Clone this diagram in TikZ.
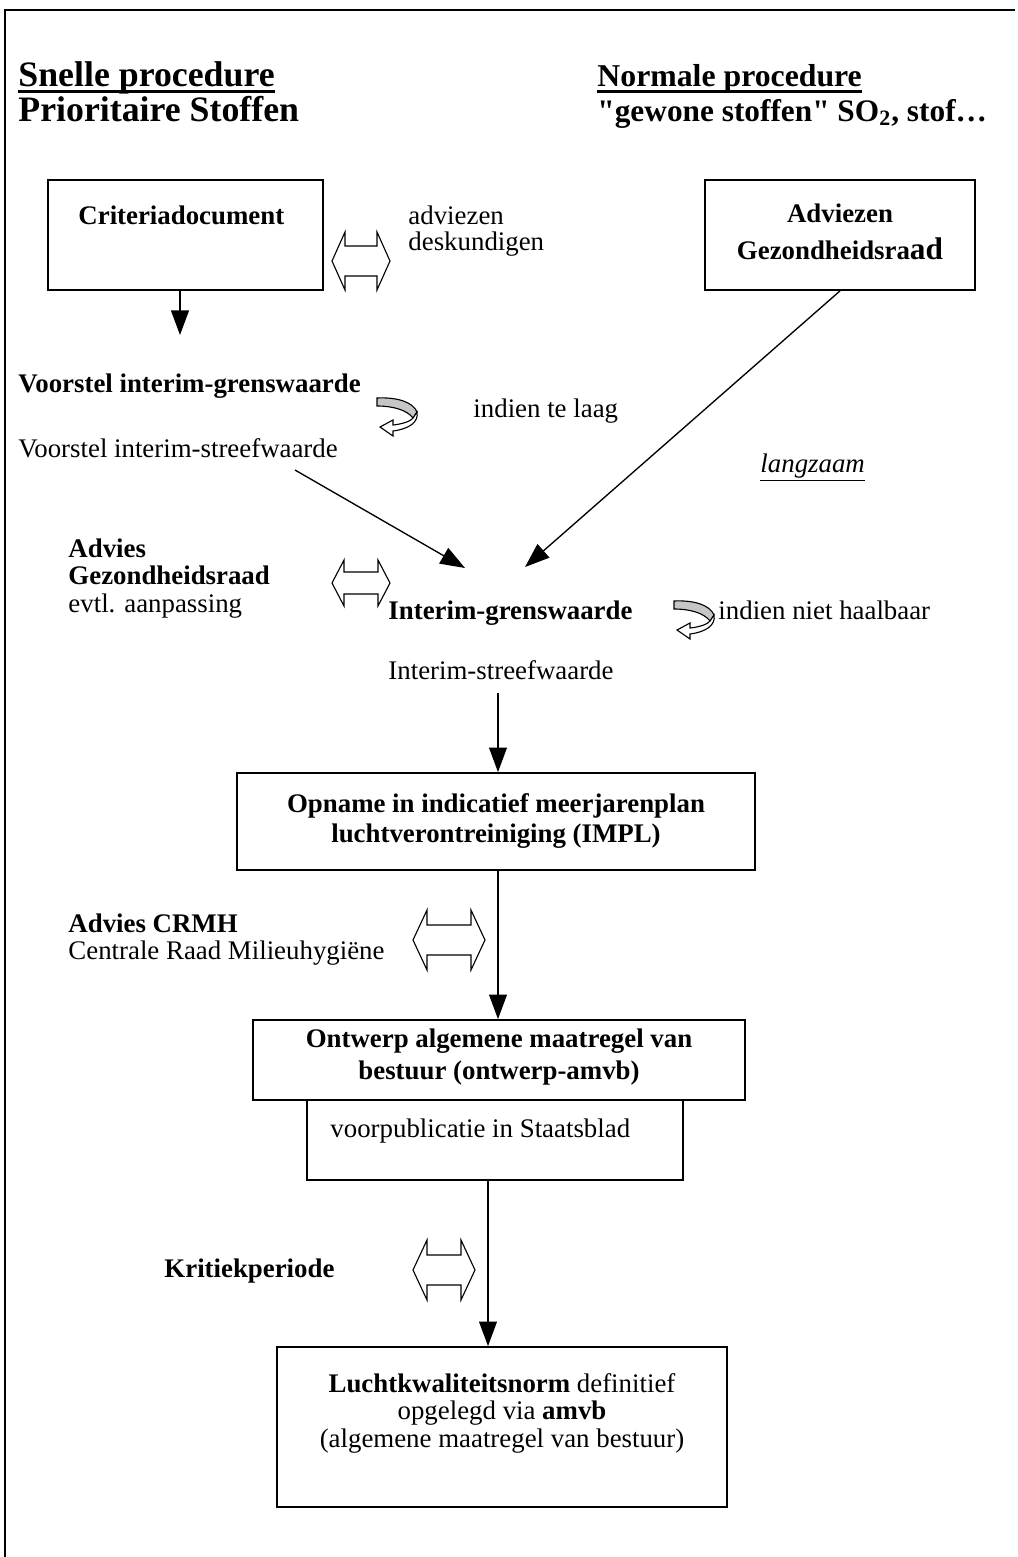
\documentclass[tikz,border=0pt]{standalone}
\usepackage{fontspec}
\setmainfont{Liberation Serif}[Ligatures=TeXOff]
\usetikzlibrary{arrows.meta, positioning, fit}

\begin{document}
\begin{tikzpicture}[x=0.447pt, y=-0.447pt]
\tikzstyle{box}=[draw=black, line width=0.8pt, inner sep=0pt]
\tikzstyle{txt}=[anchor=base west, inner sep=0pt, font=\fontsize{12}{12}\selectfont]
\tikzstyle{btxt}=[txt, font=\fontsize{12}{12}\selectfont\bfseries]
\tikzstyle{ctxt}=[anchor=base, inner sep=0pt, font=\fontsize{12}{12}\selectfont]
\tikzstyle{title}=[anchor=base west, inner sep=0pt, font=\fontsize{16}{16}\selectfont\bfseries]
\tikzstyle{connect}=[-{Triangle[length=11pt, width=8pt]}, line width=0.6pt]
\tikzstyle{dbl}=[draw=black, line width=0.5pt, line join=miter]
\tikzstyle{turn}=[line width=0.5pt]
\tikzstyle{ul}=[line width=1.2pt]
\useasboundingbox (0,0) rectangle (1018,1557);
\draw[line width=1pt] (5,1557) -- (5,10) -- (1015,10);
% titles
\node[title] (snel) at (18,86) {Snelle procedure};
\node[title] (prio) at (18,121) {Prioritaire Stoffen};
\node[title, font=\fontsize{14.2}{14}\selectfont\bfseries] (norm) at (597,86) {Normale procedure};
\node[title, font=\fontsize{14}{14}\selectfont\bfseries] (gew) at (597,121) {"gewone stoffen" SO\textsubscript{2}, stof…};
\draw[ul] ([yshift=-2.6pt]snel.base west) -- ([yshift=-2.6pt]snel.base east);
\draw[ul] ([yshift=-2.6pt]norm.base west) -- ([yshift=-2.6pt]norm.base east);
% top boxes
\node[box, fit={(48,180) (323,290)}] (crit) {};
\node[btxt] (critt) at (78,224) {Criteriadocument};
\node[box, fit={(705,180) (975,290)}] (adv) {};
\node[ctxt, font=\fontsize{12}{12}\selectfont\bfseries] (advt) at (840,222) {Adviezen};
\node[ctxt, font=\fontsize{12}{12}\selectfont\bfseries] (advt2) at (840,259) {Gezondheidsra{\fontsize{14}{14}\selectfont ad}};
\coordinate (d1) at (361,261);
\draw[dbl, shift={(d1)}] (-29,0) -- (-16,-29) -- (-16,-15) -- (16,-15) -- (16,-29) -- (29,0) -- (16,29) -- (16,15) -- (-16,15) -- (-16,29) -- cycle;
\node[txt] (desk) at (408,224) {adviezen};
\node[txt] (desk2) at (408,250) {deskundigen};
\coordinate (c1) at (180,335);
\path (c1 |- crit.south) edge [connect] (c1);
% snelle procedure
\node[btxt] (vig) at (18,392) {Voorstel interim-grenswaarde};
\draw[turn, fill=gray!45, shift={(377,398)}] (0,0) .. controls (20,-1) and (36,4) .. (40,14) -- (36,20) .. controls (30,12) and (16,8) .. (0,8) -- cycle;
\draw[turn, fill=white, shift={(377,398)}] (40,14) .. controls (42,24) and (32,31) .. (16,33) -- (16,38) -- (3,29) -- (16,22) -- (16,27) .. controls (26,26) and (34,23) .. (36,20) -- cycle;
\node[txt] (laag) at (473,417) {indien te laag};
\node[txt] (vis) at (18,457) {Voorstel interim-streefwaarde};
\node[txt, font=\fontsize{12}{12}\selectfont\itshape] (lz) at (760,472) {\underline{langzaam}};
\coordinate (c2) at (295,470);
\coordinate (c3) at (465,568);
\coordinate (c4) at (525,567);
\path (c2) edge [connect] (c3);
\path (adv.south) edge [connect] (c4);
\node[btxt] (agr) at (68,557) {Advies};
\node[btxt] (agr2) at (68,584) {Gezondheidsraad};
\node[txt] (agr3) at (68,612) {evtl. aanpassing};
\coordinate (d2) at (361,583);
\draw[dbl, shift={(d2)}] (-29,0) -- (-17,-23) -- (-17,-11) -- (17,-11) -- (17,-23) -- (29,0) -- (17,23) -- (17,11) -- (-17,11) -- (-17,23) -- cycle;
% interim
\node[btxt] (ig) at (388,619) {Interim-grenswaarde};
\draw[turn, fill=gray!45, shift={(674,601)}] (0,0) .. controls (20,-1) and (36,4) .. (40,14) -- (36,20) .. controls (30,12) and (16,8) .. (0,8) -- cycle;
\draw[turn, fill=white, shift={(674,601)}] (40,14) .. controls (42,24) and (32,31) .. (16,33) -- (16,38) -- (3,29) -- (16,22) -- (16,27) .. controls (26,26) and (34,23) .. (36,20) -- cycle;
\node[txt] (haal) at (718,619) {indien niet haalbaar};
\node[txt] (is) at (388,679) {Interim-streefwaarde};
\coordinate (c5) at (498,693);
% IMPL
\node[box, fit={(237,773) (755,870)}] (impl) {};
\node[ctxt, font=\fontsize{12}{12}\selectfont\bfseries] (implt) at (496,812) {Opname in indicatief meerjarenplan};
\node[ctxt, font=\fontsize{12}{12}\selectfont\bfseries] (implt2) at (496,842) {luchtverontreiniging (IMPL)};
\path (c5) edge [connect] (c5 |- impl.north);
\node[btxt] (crmh) at (68,932) {Advies CRMH};
\node[txt] (crmh2) at (68,959) {Centrale Raad Milieuhygiëne};
\coordinate (d3) at (449,940);
\draw[dbl, shift={(d3)}] (-36,0) -- (-22,-30) -- (-22,-15) -- (22,-15) -- (22,-30) -- (36,0) -- (22,30) -- (22,15) -- (-22,15) -- (-22,30) -- cycle;
% ontwerp
\node[box, fit={(253,1020) (745,1100)}] (ontw) {};
\node[ctxt, font=\fontsize{12}{12}\selectfont\bfseries] (ontwt) at (499,1047) {Ontwerp algemene maatregel van};
\node[ctxt, font=\fontsize{12}{12}\selectfont\bfseries] (ontwt2) at (499,1079) {bestuur (ontwerp-amvb)};
\path (c5 |- impl.south) edge [connect] (c5 |- ontw.north);
\node[box, fit={(307,1100) (683,1180)}] (vp) {};
\node[txt] (vpt) at (330,1137) {voorpublicatie in Staatsblad};
\node[btxt] (krit) at (164,1277) {Kritiekperiode};
\coordinate (d4) at (444,1270);
\draw[dbl, shift={(d4)}] (-31,0) -- (-17,-30) -- (-17,-15) -- (17,-15) -- (17,-30) -- (31,0) -- (17,30) -- (17,15) -- (-17,15) -- (-17,30) -- cycle;
% norm
\node[box, fit={(277,1347) (727,1507)}] (lkn) {};
\node[ctxt] (lknt) at (502,1392) {\textbf{Luchtkwaliteitsnorm} definitief};
\node[ctxt] (lknt2) at (502,1419) {opgelegd via \textbf{amvb}};
\node[ctxt] (lknt3) at (502,1447) {(algemene maatregel van bestuur)};
\coordinate (c6) at (488,1180);
\path (c6) edge [connect] (c6 |- lkn.north);
\end{tikzpicture}
\end{document}
